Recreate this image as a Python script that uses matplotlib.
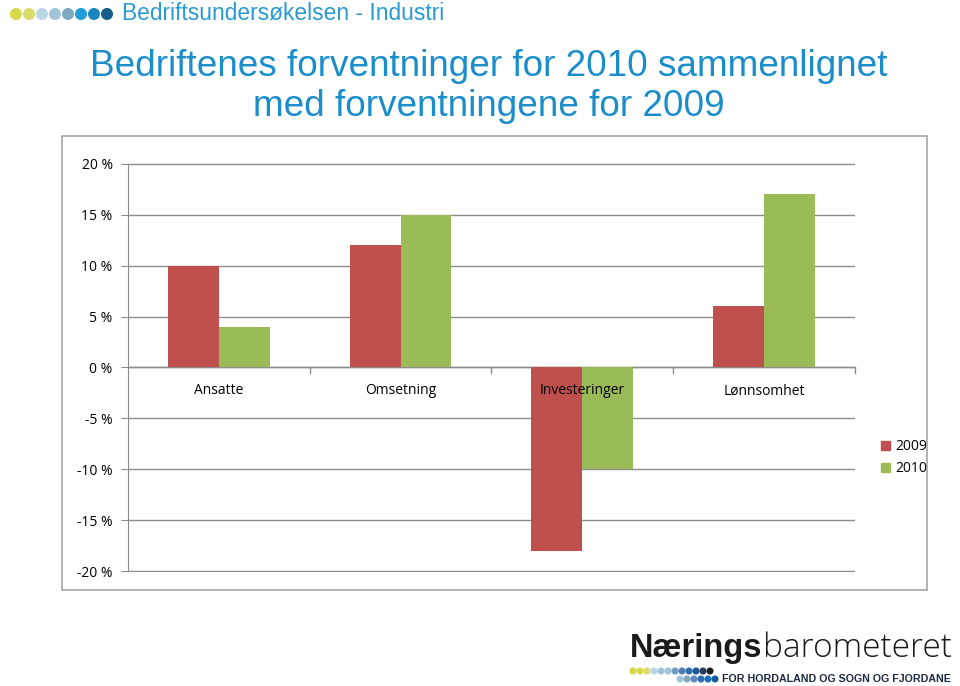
import numpy as np
import matplotlib.pyplot as plt
from matplotlib.patches import Rectangle

#======data=========#
categories = ["Ansatte", "Omsetning", "Investeringer", "Lønnsomhet"]
v2009 = [10, 12, -18, 6]
v2010 = [4, 15, -10, 17]
series_names = ["2009", "2010"]
yticks = [-20, -15, -10, -5, 0, 5, 10, 15, 20]

red = "#C0504D"
green = "#9BBB59"
blue = "#1B8DCB"
grid = "#8C8C8C"

plt.rcParams['font.family'] = ['Liberation Sans', 'DejaVu Sans']

fig = plt.figure(figsize=(9.6, 6.86), dpi=100)

# overlay in pixel coords for decorations
deco = fig.add_axes([0, 0, 1, 1], zorder=5)
deco.set_xlim(0, 960)
deco.set_ylim(686, 0)
deco.axis("off")
deco.patch.set_alpha(0)

# outer chart frame
deco.add_patch(Rectangle((62, 136), 865, 454, fill=False, edgecolor="#A6A6A6", linewidth=1.2))

ax = fig.add_axes([0.1333, 0.1662, 0.7573, 0.5962])
x = np.arange(len(categories))
w = 0.28
ax.bar(x - w/2, v2009, w, color=red, label=series_names[0], zorder=3)
ax.bar(x + w/2, v2010, w, color=green, label=series_names[1], zorder=3)

ax.set_xlim(-0.5, len(categories) - 0.5)
ax.set_ylim(-20.08, 20.08)
ax.set_yticks(yticks)
ax.set_yticklabels([f"{t} %" for t in yticks], fontsize=10, family=["Open Sans", "DejaVu Sans"])
ax.yaxis.grid(True, color=grid, linewidth=1)
ax.set_axisbelow(True)
for s in ["top", "right", "bottom"]:
    ax.spines[s].set_visible(False)
ax.spines["left"].set_color(grid)
ax.spines["left"].set_bounds(-20, 20)
ax.tick_params(axis="y", length=5, color=grid, pad=6)

# category axis at zero
ax.axhline(0, color=grid, linewidth=1, zorder=2)
ax.set_xticks([])
for b in np.arange(0.5, len(categories), 1):
    ax.plot([b, b], [0, -0.5], color=grid, linewidth=1, zorder=2, clip_on=False)
for i, c in enumerate(categories):
    ax.text(i, -1.55, c, ha="center", va="top", fontsize=10, zorder=4,
            family=["Open Sans", "DejaVu Sans"])

# legend
deco.add_patch(Rectangle((881, 441), 9, 9, color=red))
deco.add_patch(Rectangle((881, 463), 9, 9, color=green))
deco.text(895, 446, series_names[0], fontsize=10, va="center", family=["Open Sans", "DejaVu Sans"])
deco.text(895, 468, series_names[1], fontsize=10, va="center", family=["Open Sans", "DejaVu Sans"])

# titles
deco.text(489, 66, "Bedriftenes forventninger for 2010 sammenlignet", ha="center", va="center",
          fontsize=26.6, color=blue)
deco.text(489, 107, "med forventningene for 2009", ha="center", va="center",
          fontsize=26.6, color=blue)

# header
dot_cols = ["#D7D84A", "#D9DB6A", "#BBD6E6", "#A3C4D8", "#7FA8C4", "#1F9ED8", "#1A86C2", "#145E8A"]
deco.scatter([16 + i*13 for i in range(len(dot_cols))], [14]*len(dot_cols), s=75, c=dot_cols,
             linewidths=0)
deco.text(122, 14, "Bedriftsundersøkelsen - Industri", fontsize=16.4, color="#2A9AD3", va="center")

# logo
t1 = deco.text(630, 657, "Nærings", fontsize=23.5, fontweight="bold", color="#1A1A1A", va="baseline")
fig.canvas.draw()
bb = t1.get_window_extent()
x_end = bb.x1
t2 = deco.text(x_end + 1, 657, "barometeret", fontsize=24, fontweight="light", color="#1A1A1A",
               va="baseline", family=["Open Sans", "DejaVu Sans"])
logo_top = ["#D7D84A", "#D7D84A", "#D9DB6A", "#BBD6E6", "#A3C4D8", "#A3C4D8", "#6F9CC4", "#4E7FB8",
            "#2E6EB0", "#1A5A9A", "#2A3A5A", "#222222"]
deco.scatter([633 + i*7 for i in range(len(logo_top))], [671]*len(logo_top), s=26, c=logo_top,
             linewidths=0)
logo_bot = ["#A3C4D8", "#7FA8C4", "#5A8AC0", "#2E6EB0", "#1A70C0", "#1A5A9A"]
deco.scatter([680 + i*7 for i in range(len(logo_bot))], [679]*len(logo_bot), s=26, c=logo_bot,
             linewidths=0)
deco.text(722, 679, "FOR HORDALAND OG SOGN OG FJORDANE", fontsize=7.7, fontweight="bold",
          color="#1C2A44", va="center")

plt.savefig("out.png", dpi=100)
